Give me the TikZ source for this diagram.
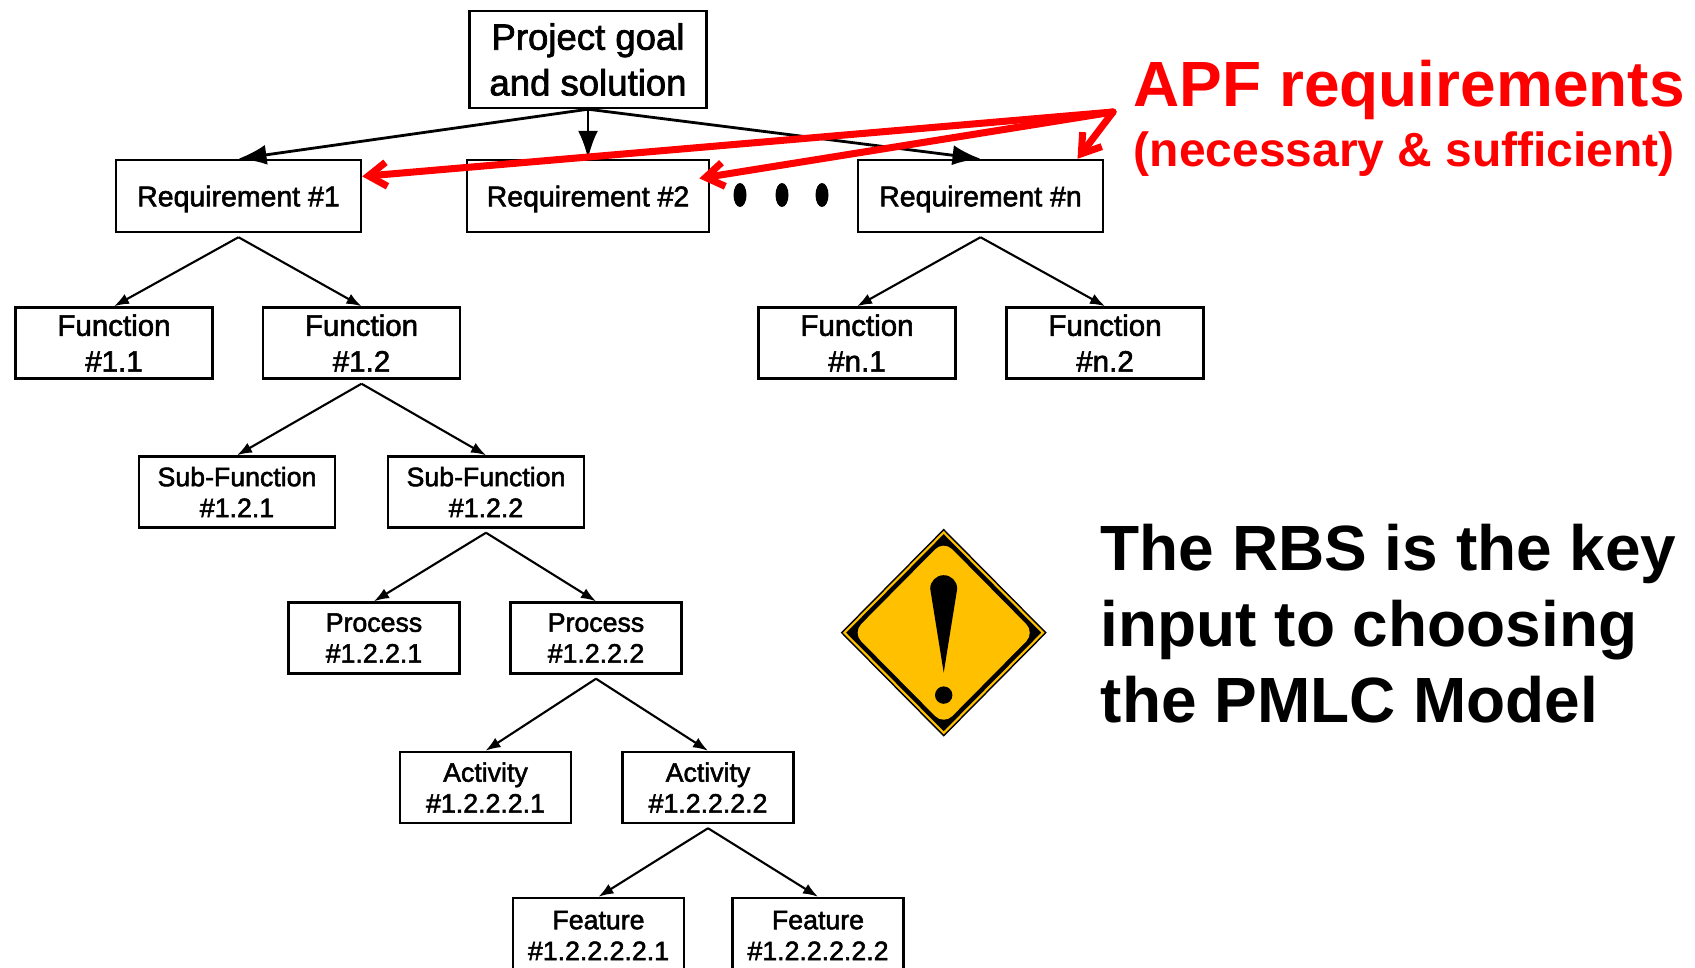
\documentclass[tikz,border=0pt]{standalone}
\usepackage{fontspec}
\setmainfont{Liberation Sans}
\newfontfamily\boxfont[FakeBold=2]{Liberation Sans}
\usetikzlibrary{arrows.meta}
\usetikzlibrary{shapes.geometric}

\definecolor{signyellow}{HTML}{FFC000}
\definecolor{apfred}{HTML}{FF0000}

\tikzset{
  rbsbox/.style={draw, line width=0.7pt, align=center, inner sep=0pt},
  projbox/.style={rbsbox, minimum width=2.37cm, minimum height=0.97cm, font=\boxfont\fontsize{10.4}{13}\selectfont},
  reqbox/.style={rbsbox, minimum width=2.45cm, minimum height=0.72cm, text depth=0pt, font=\boxfont\fontsize{8.1}{10}\selectfont},
  funcbox/.style={rbsbox, minimum width=1.97cm, minimum height=0.71cm, font=\boxfont\fontsize{8.4}{10.2}\selectfont},
  lowbox/.style={rbsbox, minimum width=1.71cm, minimum height=0.71cm, font=\boxfont\fontsize{7.6}{8.8}\selectfont},
  topconn/.style={-{Latex[length=2.8mm,width=2mm]}, line width=0.8pt},
  conn/.style={-{Latex[length=1.5mm,width=1.1mm]}, line width=0.6pt},
  redconn/.style={-{Straight Barb[length=1.8mm,width=2.4mm]}, apfred, line width=2pt, line cap=round},
}

\begin{document}
\begin{tikzpicture}

\useasboundingbox (0,0) rectangle (16.95,-9.68);
\clip (0,0) rectangle (16.95,-9.68);

% Goal and requirements
\node[projbox] (project) at (5.88,-0.595) {Project goal\\and solution};
\node[reqbox] (req1) at (2.385,-1.96) {Requirement \#1};
\node[reqbox, minimum width=2.42cm] (req2) at (5.88,-1.96) {Requirement \#2};
\node[reqbox] (reqn) at (9.805,-1.96) {Requirement \#n};

% Functions
\node[funcbox] (func11) at (1.14,-3.43) {Function\\\#1.1};
\node[funcbox] (func12) at (3.615,-3.43) {Function\\\#1.2};
\node[funcbox] (funcn1) at (8.57,-3.43) {Function\\\#n.1};
\node[funcbox] (funcn2) at (11.05,-3.43) {Function\\\#n.2};

% Sub-functions
\node[lowbox, minimum width=1.96cm] (sub121) at (2.37,-4.92) {Sub-Function\\\#1.2.1};
\node[lowbox, minimum width=1.96cm] (sub122) at (4.86,-4.92) {Sub-Function\\\#1.2.2};

% Processes
\node[lowbox] (proc1221) at (3.74,-6.38) {Process\\\#1.2.2.1};
\node[lowbox] (proc1222) at (5.96,-6.38) {Process\\\#1.2.2.2};

% Activities
\node[lowbox] (act12221) at (4.855,-7.875) {Activity\\\#1.2.2.2.1};
\node[lowbox] (act12222) at (7.08,-7.875) {Activity\\\#1.2.2.2.2};

% Features
\node[lowbox, minimum height=0.75cm] (feat122221) at (5.985,-9.355) {Feature\\\#1.2.2.2.2.1};
\node[lowbox, minimum height=0.75cm] (feat122222) at (8.18,-9.355) {Feature\\\#1.2.2.2.2.2};

% Connectors
\draw[topconn] (project.south) -- (req1.north);
\draw[topconn] (project.south) -- (req2.north);
\draw[topconn] (project.south) -- (reqn.north);
\draw[conn] ([yshift=-0.4mm]req1.south) -- (func11.north);
\draw[conn] ([yshift=-0.4mm]req1.south) -- (func12.north);
\draw[conn] ([yshift=-0.4mm]reqn.south) -- (funcn1.north);
\draw[conn] ([yshift=-0.4mm]reqn.south) -- (funcn2.north);
\draw[conn] ([yshift=-0.4mm]func12.south) -- (sub121.north);
\draw[conn] ([yshift=-0.4mm]func12.south) -- (sub122.north);
\draw[conn] ([yshift=-0.4mm]sub122.south) -- (proc1221.north);
\draw[conn] ([yshift=-0.4mm]sub122.south) -- (proc1222.north);
\draw[conn] ([yshift=-0.4mm]proc1222.south) -- (act12221.north);
\draw[conn] ([yshift=-0.4mm]proc1222.south) -- (act12222.north);
\draw[conn] ([yshift=-0.4mm]act12222.south) -- (feat122221.north);
\draw[conn] ([yshift=-0.4mm]act12222.south) -- (feat122222.north);

% Dots between the requirements
\foreach \x in {7.40,7.82,8.22}
  \fill (\x,-1.95) ellipse (0.065 and 0.12);

% APF label and arrows
\node[anchor=west, inner sep=0pt, text=apfred, font=\bfseries\fontsize{18.2}{22}\selectfont] (apf) at (11.33,-0.895) {APF requirements};
\node[anchor=west, inner sep=0pt, text=apfred, font=\bfseries\fontsize{13.65}{16}\selectfont] (apfnote) at (11.33,-1.54) {(necessary \& sufficient)};
\coordinate (apfstart) at (11.13,-1.12);
\draw[redconn] (apfstart) -- (req1.9);
\draw[redconn, shorten >=-1.1mm] (apfstart) -- (req2.9);
\draw[redconn] (apfstart) -- (reqn.21);

% Warning sign
\begin{scope}[shift={(9.437,-6.327)}]
  \fill[signyellow, draw=black, line width=0.4pt] (-1.02,0) -- (0,1.03) -- (1.02,0) -- (0,-1.03) -- cycle;
  \fill (-0.975,0) -- (0,0.985) -- (0.975,0) -- (0,-0.985) -- cycle;
  \fill[signyellow, rounded corners=1.2mm] (-0.91,0) -- (0,0.92) -- (0.91,0) -- (0,-0.92) -- cycle;
  \fill (0,-0.40) -- (-0.135,0.44) arc (180:0:0.135) -- cycle;
  \fill (0,-0.624) circle (0.087);
\end{scope}

% Key message
\node[anchor=north west, inner sep=0pt, align=left, font=\bfseries\fontsize{18.2}{21.7}\selectfont] (rbsnote) at (11.0,-5.23) {The RBS is the key\\input to choosing\\the PMLC Model};

\end{tikzpicture}
\end{document}
